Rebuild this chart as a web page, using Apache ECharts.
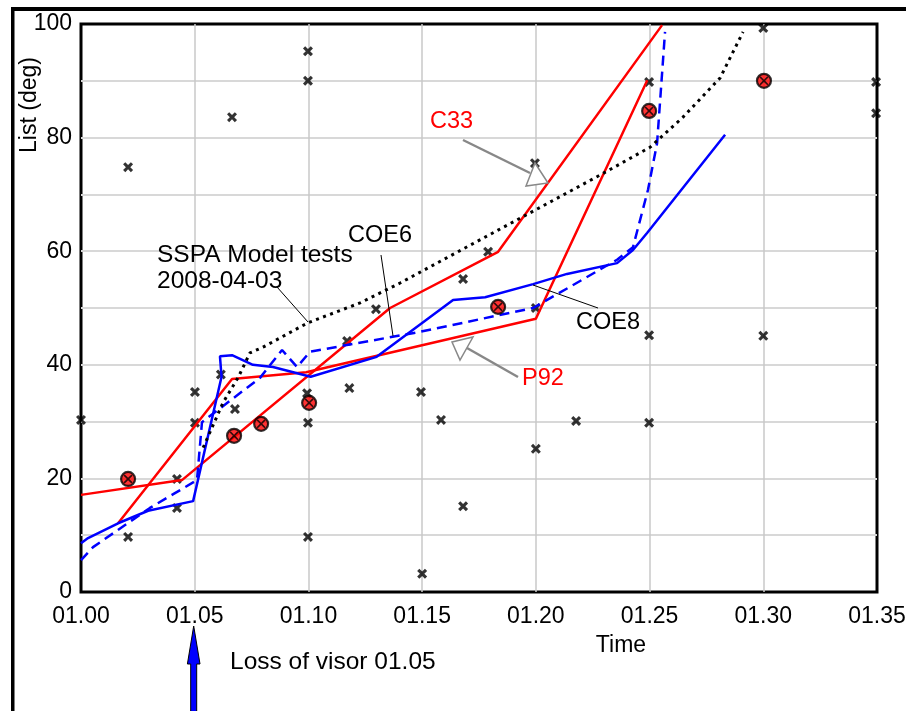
<!DOCTYPE html>
<html>
<head>
<meta charset="utf-8">
<script src="https://cdn.jsdelivr.net/npm/echarts@6.0.0/dist/echarts.min.js"></script>
<style>
html,body{margin:0;padding:0;background:#fff;}
#chart{width:906px;height:711px;}
</style>
</head>
<body>
<div id="chart"></div>
<script>
// ---- tick labels ----
const xTickLabels = ['01.00','01.05','01.10','01.15','01.20','01.25','01.30','01.35'];
const yTickLabels = ['0','20','40','60','80','100'];

// ---- series (x in minutes after 01.00, y in degrees) ----
const c33X = [0, 4.44, 13.59, 18.34, 25.55];
const c33Y = [17.1, 19.7, 50.0, 59.9, 99.8];

const p92X = [1.63, 6.64, 9.9, 20.0, 24.9];
const p92Y = [12.1, 37.5, 38.7, 48.1, 90.1];

const coe8X = [0, 0.31, 1.63, 2.95, 4.93, 6.18, 6.11, 6.64, 7.56, 8.44, 10.1, 13.0, 16.36, 17.77, 19.88, 21.37, 23.57, 24.27, 24.89, 28.32];
const coe8Y = [8.6, 9.5, 12.1, 14.3, 16.0, 37.9, 41.5, 41.7, 40.0, 39.6, 37.9, 41.4, 51.4, 51.9, 54.2, 56.0, 57.9, 60.2, 63.2, 80.5];

const coe6X = [0, 0.53, 3.03, 4.13, 5.1, 5.32, 7.87, 8.84, 9.5, 10.07, 14.9, 19.88, 23.57, 24.27, 24.93, 25.33, 25.68];
const coe6Y = [5.6, 7.9, 14.8, 17.4, 19.7, 29.9, 37.7, 42.6, 39.6, 42.3, 45.8, 50.0, 58.5, 60.7, 70.8, 79.0, 98.6];

const sspaX = [5.37, 6.24, 6.9, 7.43, 8.0, 9.98, 12.27, 14.03, 22.82, 25.02, 26.47, 28.1, 29.11];
const sspaY = [25.4, 33.3, 37.7, 42.1, 43.1, 47.4, 50.9, 54.4, 73.4, 78.3, 83.6, 90.5, 98.6];

const crossX = [0, 2.07, 2.07, 4.22, 4.22, 5.01, 5.01, 6.15, 6.64, 6.77, 9.94, 9.98, 9.98, 9.98, 9.98, 11.7, 11.8, 12.97, 14.95, 15.0, 15.83, 16.8, 16.8, 17.9, 19.96, 20.0, 20.0, 21.77, 24.98, 24.98, 24.98, 30.0, 30.0, 34.96, 34.96];
const crossY = [30.3, 74.8, 9.7, 19.9, 14.8, 35.2, 29.8, 38.3, 83.6, 32.2, 35.0, 29.8, 9.7, 95.2, 90.0, 44.2, 35.9, 49.8, 35.2, 3.2, 30.3, 55.1, 15.1, 59.9, 75.5, 50.0, 25.2, 30.1, 45.2, 29.8, 89.8, 99.3, 45.1, 89.8, 84.3];

const circX = [2.07, 6.73, 7.92, 10.03, 18.34, 24.98, 30.03];
const circY = [19.9, 27.5, 29.6, 33.3, 50.2, 84.7, 90.0];

function pairs(xs, ys){ return xs.map((x,i)=>[x, ys[i]]); }

const FONT = '"Liberation Sans", Arial, sans-serif';
const crossThick = 'path://M2.2,0L5,2.8L7.8,0L10,2.2L7.2,5L10,7.8L7.8,10L5,7.2L2.2,10L0,7.8L2.8,5L0,2.2Z';
const crossThin = 'path://M1.3,0L5,3.7L8.7,0L10,1.3L6.3,5L10,8.7L8.7,10L5,6.3L1.3,10L0,8.7L3.7,5L0,1.3Z';

const chart = echarts.init(document.getElementById('chart'), null, {renderer:'canvas'});

function lineSeries(name, xs, ys, color, type, width){
  return {
    name, type:'line', data: pairs(xs, ys), showSymbol:false, symbol:'none',
    lineStyle:{color, width, type, cap:'butt'}, z:3, silent:true, animation:false
  };
}

function txt(x, y, text, color, align, size){
  return {type:'text', x, y, z:50, style:{text, fill:color||'#000', font:(size||24) + 'px ' + FONT, align:align||'left', verticalAlign:'middle', textAlign:align||'left', textVerticalAlign:'middle'}};
}
function seg(x1,y1,x2,y2,color,w){
  return {type:'line', z:40, shape:{x1,y1,x2,y2}, style:{stroke:color, lineWidth:w}};
}

const option = {
  animation:false,
  backgroundColor:'#fff',
  grid:{left:81, right:29, top:24, bottom:119, show:true, borderColor:'#000', borderWidth:3, backgroundColor:'transparent', outerBoundsMode:'none', containLabel:false},
  xAxis:{
    type:'value', min:0, max:35, interval:5,
    axisLine:{show:false}, axisTick:{show:false},
    axisLabel:{color:'#000', fontSize:23, fontFamily:FONT, margin:13,
      formatter:(v)=> xTickLabels[Math.round(v/5)]},
    splitLine:{show:true, showMinLine:false, showMaxLine:false, lineStyle:{color:'#c8c8c8', width:1.5}}
  },
  yAxis:{
    type:'value', min:0, max:100, interval:10,
    axisLine:{show:false}, axisTick:{show:false},
    axisLabel:{color:'#000', fontSize:23, fontFamily:FONT, margin:9,
      formatter:(v)=> (v % 20 === 0 ? yTickLabels[v/20] : '')},
    splitLine:{show:true, showMinLine:false, showMaxLine:false, lineStyle:{color:'#d8d8d8', width:2}}
  },
  series:[
    {type:'scatter', name:'obs', data:pairs(crossX, crossY), symbol:crossThick, symbolSize:10, itemStyle:{color:'#000'}, z:2, silent:true},
    lineSeries('C33', c33X, c33Y, '#ff0000', 'solid', 2.5),
    lineSeries('P92', p92X, p92Y, '#ff0000', 'solid', 2.5),
    lineSeries('COE8', coe8X, coe8Y, '#0000ff', 'solid', 2.5),
    lineSeries('COE6', coe6X, coe6Y, '#0000ff', [10,6], 2.5),
    lineSeries('SSPA', sspaX, sspaY, '#000000', [3,4.5], 3),
    {type:'scatter', name:'ref', data:pairs(circX, circY), symbol:'circle', symbolSize:14, itemStyle:{color:'#ff0000', borderColor:'#000', borderWidth:2.2}, z:5, silent:true},
    {type:'scatter', name:'refx', data:pairs(circX, circY), symbol:crossThin, symbolSize:9, itemStyle:{color:'#000'}, z:6, silent:true}
  ],
  graphic:[
    // page frame edges
    {type:'rect', z:60, shape:{x:11, y:7, width:895, height:4}, style:{fill:'#000'}},
    {type:'rect', z:60, shape:{x:11, y:7, width:3.5, height:704}, style:{fill:'#000'}},
    // axis titles
    {type:'text', x:30, y:105, rotation:Math.PI/2, z:50, style:{text:'List (deg)', fill:'#000', font:'23px ' + FONT, align:'center', verticalAlign:'middle', textAlign:'center', textVerticalAlign:'middle'}},
    txt(621, 646, 'Time', '#000', 'center', 23),
    txt(230, 662, 'Loss of visor 01.05', '#000', 'left', 24.5),
    // visor arrow
    {type:'polygon', z:50, shape:{points:[[193.7,626],[200,664],[196.7,664],[196.7,713],[190.7,713],[190.7,664],[187.4,664]]}, style:{fill:'#0000ff', stroke:'#000', lineWidth:1}},
    // C33 annotation
    txt(430, 122, 'C33', '#ff0000', 'left', 23.5),
    seg(463,140,530,173,'#888',2.5),
    {type:'polygon', z:41, shape:{points:[[535,163],[548,183],[526,186]]}, style:{fill:'#fff', stroke:'#888', lineWidth:1.5}},
    // P92 annotation
    txt(522, 379, 'P92', '#ff0000', 'left', 23.5),
    seg(518,377,467,348,'#888',2.5),
    {type:'polygon', z:41, shape:{points:[[452,342],[473,337],[460,360]]}, style:{fill:'#fff', stroke:'#888', lineWidth:1.5}},
    // COE6 / COE8 / SSPA labels with leaders
    txt(348, 236, 'COE6', '#000', 'left', 23.5),
    seg(381,255,393,336,'#000',1),
    txt(576, 323, 'COE8', '#000', 'left', 23.5),
    seg(598,308,533,285,'#000',1),
    txt(157, 255, 'SSPA Model tests', '#000', 'left', 24.5),
    txt(157, 281, '2008-04-03', '#000', 'left', 24.5),
    seg(277,287,308,322,'#000',1)
  ]
};
chart.setOption(option);
</script>
</body>
</html>
